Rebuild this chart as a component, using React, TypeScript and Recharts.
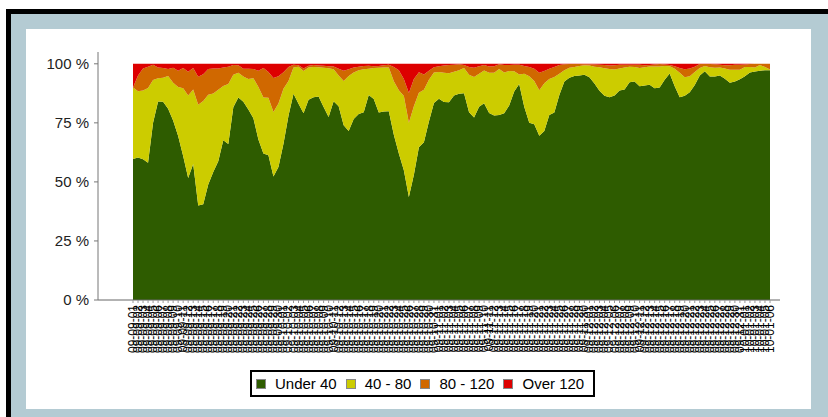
import { AreaChart, Area, XAxis, YAxis, Legend } from 'recharts';

// one reading per day: month prefix and number of days taken from it
const months: [string, number][] = [
  ['09-09', 30], ['09-10', 31], ['09-11', 30], ['09-12', 31], ['10-01', 6],
];

const under40 = [
  59.7, 60.3, 59.6, 58.1, 75, 84, 83.9, 81, 76, 69.4,
  61, 51.7, 57.6, 40, 40.5, 48.9, 54.2, 58.7, 67.6, 66,
  81.6, 85.7, 83.9, 80.7, 77, 68, 62, 61.3, 52.3, 56.3,
  66.2, 78, 87.3, 83.1, 79.1, 84.8, 85.8, 86.2, 81.7, 77.5,
  84.2, 82, 74, 71.5, 76.6, 78.8, 79.5, 86.8, 85.1, 79.4,
  79.8, 79.9, 70, 62, 54.9, 43.6, 53, 64.7, 66.8, 75.6,
  83.4, 85.2, 83.8, 83.7, 86.6, 87.3, 87.5, 79.5, 77.3, 81.8,
  83.3, 79.2, 78.1, 78.3, 79.1, 82.3, 88.3, 91.4, 81.8, 75,
  74.4, 69.5, 71.5, 78.3, 79.4, 86.8, 92.5, 94.1, 94.8, 95.1,
  95.4, 94.3, 91.7, 88.6, 86.5, 85.8, 86.6, 88.7, 89.1, 92.2,
  92.5, 90.5, 90.8, 91.1, 89.6, 90, 93.2, 95.9, 90.5, 85.8,
  86.5, 88, 91, 95, 96.8, 94.6, 94.6, 95, 93.7, 92,
  92.5, 93.5, 94.7, 96.3, 96.7, 97.1, 97.3, 97.3,
];
const from40to80 = [
  30.3, 28.1, 29.1, 31.7, 18.1, 9.9, 10.2, 13.8, 16, 20.8,
  28.6, 34.9, 31.5, 42.7, 43.8, 38, 33.2, 30.3, 23, 25.4,
  13.8, 10.5, 10.7, 12.9, 16.9, 22.2, 23.7, 24.3, 27.3, 26.9,
  23.2, 14.7, 11.1, 15.7, 17.9, 13.6, 12.9, 12.3, 16.6, 20.6,
  13.5, 13, 18.7, 23.3, 19.7, 18.5, 18.2, 11.1, 13.1, 18.9,
  18.6, 18.5, 22.6, 26.8, 31.5, 31.4, 29, 23.1, 22.2, 17.7,
  12.9, 11.3, 12.4, 12.3, 10, 10, 10.7, 15.9, 17.1, 14,
  13.9, 17, 18.1, 19.5, 17.2, 14.7, 8.6, 4.1, 14, 19.7,
  18.3, 19.3, 20.3, 15.3, 15, 9, 4.8, 4.2, 3.9, 4,
  4, 5, 7.1, 9.9, 11.6, 12, 11, 9.3, 9.3, 6.6,
  6.2, 7.7, 7.7, 7.8, 9.3, 8.9, 5.9, 3.1, 7.4, 10.4,
  7.8, 6.7, 5.5, 3.2, 2.3, 3.9, 3.7, 3.4, 4.3, 5.5,
  5, 4, 4, 2.4, 1.7, 2.4, 1.3, 0.3,
];
const from80to120 = [
  0, 6.6, 9.3, 9, 6.5, 4.5, 4.1, 3, 6.3, 6.9,
  8.6, 10, 9.1, 11.8, 11.3, 10.9, 10.6, 9, 7.8, 7.4,
  4.1, 3.2, 3.3, 4.3, 3.9, 6.9, 12.5, 10.9, 14.4, 11.5,
  7, 5.9, 1.2, 0.6, 1, 0.8, 0.8, 0.8, 0.9, 0.9,
  1.2, 2.9, 4.4, 2.9, 2.1, 1.5, 1.4, 1.3, 0.8, 0.8,
  1, 1.2, 6, 8.5, 7.2, 12.6, 11.6, 8.6, 6.5, 3.8,
  2.2, 2.5, 3.1, 3.5, 3, 2.5, 1.3, 3.2, 3.9, 3.2,
  2.3, 2.7, 2.8, 2, 3.2, 2.5, 2.7, 4.1, 3.3, 3.9,
  5.2, 7.4, 5.2, 4.3, 4.2, 3.7, 2.5, 1.6, 1.2, 0.8,
  0.4, 0.5, 0.9, 1.1, 1.4, 1.5, 1.8, 1.6, 1.2, 0.8,
  0.9, 1.4, 0.9, 0.6, 0.8, 1, 0.6, 0.5, 1.1, 2,
  3.4, 3.3, 2.3, 1.7, 0.8, 1.4, 1.5, 1.2, 1.4, 1.9,
  2.1, 2.1, 1, 1.2, 1.6, 0.5, 1.4, 2.4,
];
const over120 = [
  10, 5, 2, 1.2, 0.4, 1.6, 1.8, 2.2, 1.7, 2.9,
  1.8, 3.4, 1.8, 5.5, 4.4, 2.2, 2, 2, 1.6, 1.2,
  0.5, 0.6, 2.1, 2.1, 2.2, 2.9, 1.8, 3.5, 6, 5.3,
  3.6, 1.4, 0.4, 0.6, 2, 0.8, 0.5, 0.7, 0.8, 1,
  1.1, 2.1, 2.9, 2.3, 1.6, 1.2, 0.9, 0.8, 1, 0.9,
  0.6, 0.4, 1.4, 2.7, 6.4, 12.4, 6.4, 3.6, 4.5, 2.9,
  1.5, 1, 0.7, 0.5, 0.4, 0.2, 0.5, 1.4, 1.7, 1,
  0.5, 1.1, 1, 0.2, 0.5, 0.5, 0.4, 0.4, 0.9, 1.4,
  2.1, 3.8, 3, 2.1, 1.4, 0.5, 0.2, 0.1, 0.1, 0.1,
  0.2, 0.2, 0.3, 0.4, 0.5, 0.7, 0.6, 0.4, 0.4, 0.4,
  0.4, 0.4, 0.6, 0.5, 0.3, 0.1, 0.3, 0.5, 1, 1.8,
  2.3, 2, 1.2, 0.1, 0.1, 0.1, 0.2, 0.4, 0.6, 0.6,
  0.4, 0.4, 0.3, 0.1, 0, 0, 0, 0,
];

const Y_TICKS = [0, 25, 50, 75, 100];

const SERIES = [
  { key: 'under40', name: 'Under 40', color: '#2e5c00' },
  { key: 'from40to80', name: '40 - 80', color: '#cccc00' },
  { key: 'from80to120', name: '80 - 120', color: '#d06800' },
  { key: 'over120', name: 'Over 120', color: '#dd0000' },
];

const categories = months.flatMap(([m, n]) =>
  Array.from({ length: n }, (_, d) => `${m}-${String(d + 1).padStart(2, '0')}`));
const data = categories.map((label, i) => ({
  label,
  under40: under40[i],
  from40to80: from40to80[i],
  from80to120: from80to120[i],
  over120: over120[i],
}));

const FONT = '"Liberation Sans", Arial, sans-serif';

function XTick({ x, y, payload }: any) {
  return (
    <g transform={`translate(${x},${y})`}>
      <text transform="rotate(-90)" textAnchor="end" dominantBaseline="central"
        fontSize={12} fill="#000" fontFamily={FONT}>
        {payload.value}
      </text>
    </g>
  );
}

function BoxLegend() {
  return (
    <div style={{
      border: '2px solid #000', background: '#fff', height: 23, boxSizing: 'content-box',
      display: 'flex', alignItems: 'center', paddingLeft: 4, fontFamily: FONT,
    }}>
      {SERIES.map(s => (
        <div key={s.key} style={{ display: 'flex', alignItems: 'center', marginRight: 9 }}>
          <span style={{ width: 8, height: 8, background: s.color, border: '1px solid #888', marginRight: 9 }} />
          <span style={{ fontSize: 15, color: '#000' }}>{s.name}</span>
        </div>
      ))}
    </div>
  );
}

export default function App() {
  return (
    <div style={{ position: 'fixed', left: 0, top: 0, width: 828, height: 417, overflow: 'hidden', background: '#fff' }}>
      {/* frame */}
      <div style={{ position: 'absolute', left: 6, top: 9, width: 822, height: 408, background: '#000' }} />
      <div style={{ position: 'absolute', left: 11, top: 14, width: 817, height: 403, background: '#b4cbd3' }} />
      <div style={{ position: 'absolute', left: 26, top: 29, width: 785, height: 380, background: '#fff' }} />

      <div style={{ position: 'absolute', left: 0, top: 0 }}>
        <AreaChart width={828} height={417} data={data}
          margin={{ top: 52, right: 48, bottom: 57, left: 38 }}>
          <XAxis dataKey="label" interval={0} height={60} tick={<XTick />}
            padding={{ left: 35, right: 10 }}
            axisLine={{ stroke: '#666' }} tickLine={{ stroke: '#999' }} tickSize={3} tickMargin={2} />
          <YAxis type="number" domain={[0, 105]} ticks={Y_TICKS} width={60} allowDataOverflow
            tickFormatter={(v: number) => `${v} %`}
            tick={{ fontSize: 15, fill: '#222', fontFamily: FONT }}
            axisLine={{ stroke: '#777' }} tickLine={{ stroke: '#777' }} tickSize={4} tickMargin={5} />
          {SERIES.map(s => (
            <Area key={s.key} type="linear" dataKey={s.key} name={s.name} stackId="a"
              fill={s.color} fillOpacity={1} stroke="none" isAnimationActive={false} />
          ))}
          <Legend verticalAlign="middle" align="center" layout="horizontal" content={<BoxLegend />}
            wrapperStyle={{ left: 250, top: 370, width: 'auto' }} />
        </AreaChart>
      </div>
    </div>
  );
}
